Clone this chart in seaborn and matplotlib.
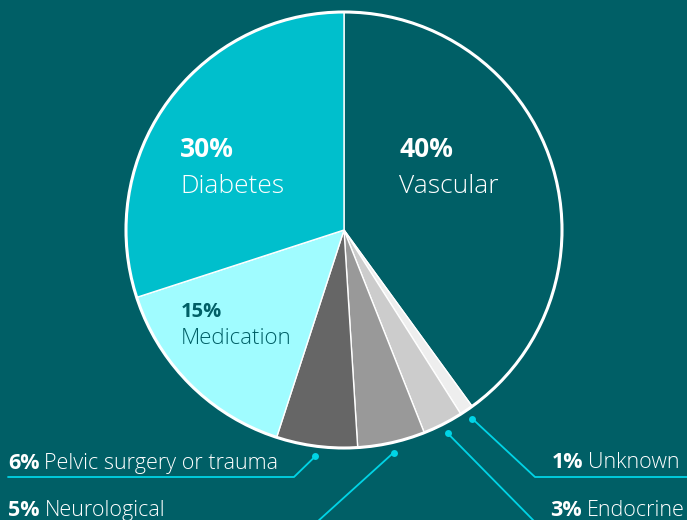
import numpy as np
import matplotlib
matplotlib.use("Agg")
import matplotlib.pyplot as plt
import seaborn as sns

# data, clockwise from 12 o'clock
labels = ["Vascular", "Unknown", "Endocrine", "Neurological",
          "Pelvic surgery or trauma", "Medication", "Diabetes"]
values = [40, 1, 3, 5, 6, 15, 30]
colors = ["#005f66", "#eeeeee", "#cccccc", "#999999", "#666666", "#a0fcff", "#00bfcc"]

bg = "#005f66"
cyan = "#00d4e6"

sns.set_theme(style="white")
plt.rcParams["font.family"] = ["Open Sans", "DejaVu Sans"]

fig = plt.figure(figsize=(6.87, 5.2), dpi=100, facecolor=bg)
ax = fig.add_axes([0, 0, 1, 1])
ax.set_facecolor(bg)

cx, cy, R = 344, 290, 218
wedges, _ = ax.pie(values, colors=colors, startangle=90, counterclock=False,
                   center=(cx, cy), radius=R, frame=True,
                   wedgeprops=dict(edgecolor="white", linewidth=1))
ax.add_patch(plt.Circle((cx, cy), R, fill=False, edgecolor="white", linewidth=2.2, zorder=5))
ax.set_xlim(0, 687)
ax.set_ylim(0, 520)
ax.set_aspect("equal")
ax.axis("off")

def Y(y_img):
    return 520 - y_img

# labels inside the pie
ax.text(180, Y(157), "30%", color="white", fontsize=19, fontweight="bold")
ax.text(180, Y(193), "Diabetes", color="white", fontsize=19, fontweight="light")
ax.text(399, Y(157), "40%", color="white", fontsize=19, fontweight="bold")
ax.text(399, Y(193), "Vascular", color="white", fontsize=19, fontweight="light")
ax.text(181, Y(317), "15%", color=bg, fontsize=14.5, fontweight="bold")
ax.text(181, Y(344), "Medication", color=bg, fontsize=16, fontweight="light")

# leader dots at the mid angle of each small wedge
cum = np.cumsum([0] + values)
def dot(i, r=228):
    mid = (cum[i] + cum[i + 1]) / 2 / 100 * 360
    a = np.deg2rad(90 - mid)
    return cx + r * np.cos(a), cy + r * np.sin(a)

leaders = {
    1: [(535, Y(477)), (690, Y(477))],
    2: [(535, Y(522))],
    3: [(317, Y(522))],
    4: [(294, Y(477)), (8, Y(477))],
}
for i, pts in leaders.items():
    x0, y0 = dot(i)
    xs = [x0] + [p[0] for p in pts]
    ys = [y0] + [p[1] for p in pts]
    ax.plot(xs, ys, color=cyan, lw=1.3, clip_on=False)
    ax.plot(x0, y0, "o", color=cyan, ms=5, mec="none")

fig.canvas.draw()
r = fig.canvas.get_renderer()
inv = ax.transData.inverted()
fs = 15.5

def two_part(x, y, pct, name, right=False):
    if not right:
        t1 = ax.text(x, y, pct, color="white", fontsize=fs, fontweight="bold")
        bb = t1.get_window_extent(r)
        x1 = inv.transform((bb.x1, 0))[0]
        ax.text(x1 + 5, y, name, color="white", fontsize=fs, fontweight="light")
    else:
        t2 = ax.text(x, y, name, color="white", fontsize=fs, fontweight="light", ha="right")
        bb = t2.get_window_extent(r)
        x0 = inv.transform((bb.x0, 0))[0]
        ax.text(x0 - 5, y, pct, color="white", fontsize=fs, fontweight="bold", ha="right")

two_part(8, Y(469), f"{values[4]}%", labels[4])
two_part(8, Y(516), f"{values[3]}%", labels[3])
two_part(680, Y(468), f"{values[1]}%", labels[1], right=True)
two_part(685, Y(516), f"{values[2]}%", labels[2], right=True)

fig.savefig("out.png", dpi=100, facecolor=bg)
